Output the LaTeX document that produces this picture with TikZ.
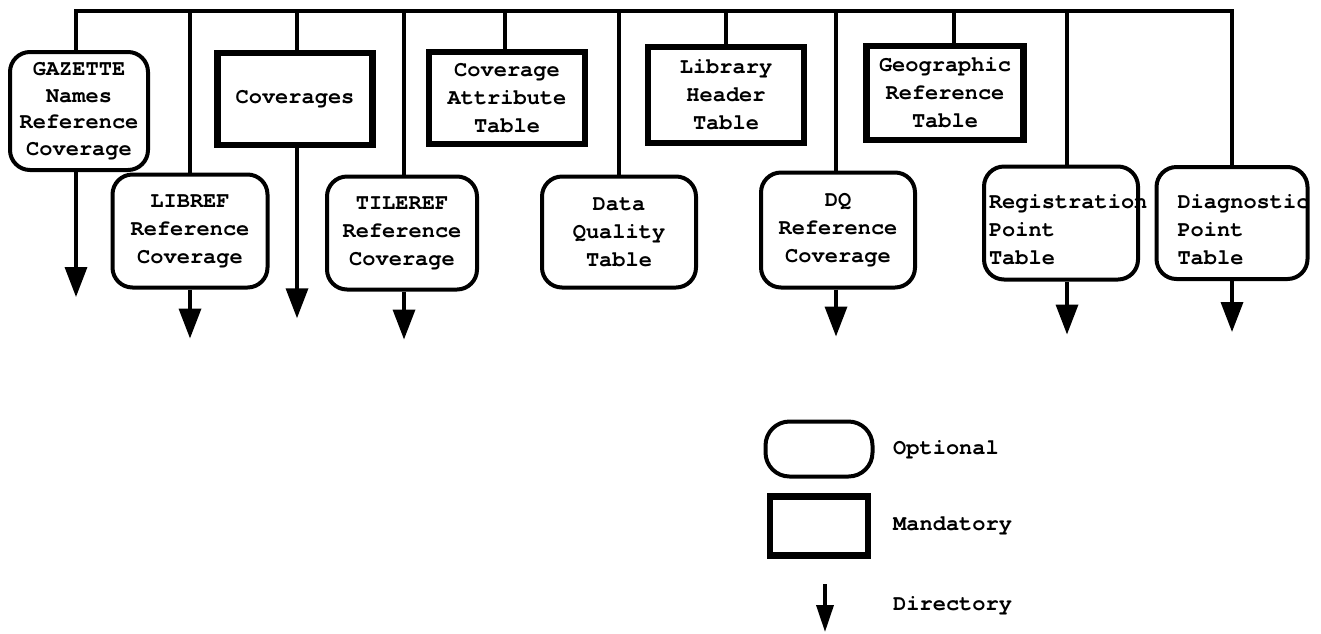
\documentclass[tikz,border=0pt]{standalone}
\usepackage{fontspec}
\newfontfamily\cour{TeX Gyre Cursor}
\usetikzlibrary{arrows.meta,calc}
\tikzset{
  txt/.style={font=\cour\bfseries\fontsize{22}{28}\selectfont, align=center, inner sep=0pt},
  optbox/.style={txt, draw, line width=4pt, rounded corners=20pt},
  mandbox/.style={txt, draw, line width=6.5pt},
  lower/.style={execute at begin node={\rule{0pt}{#1}}},
  link/.style={line width=3.5pt},
  dirarrow/.style={line width=3.5pt, -{Triangle[width=22pt,length=30pt]}},
}
\begin{document}
\begin{tikzpicture}[x=1pt,y=-1pt]
\useasboundingbox (0,0) rectangle (1321,633);
\coordinate (bus) at (0,11);
% boxes
\node[optbox, minimum width=138pt, minimum height=118pt, font=\cour\bfseries\fontsize{22}{26.5}\selectfont] (gaz) at (79,111) {GAZETTE\\Names\\Reference\\Coverage};
\node[optbox, minimum width=155pt, minimum height=113pt] (libref) at (190,231) {LIBREF\\Reference\\Coverage};
\node[mandbox, minimum width=155pt, minimum height=92pt] (cov) at (295,99) {Coverages};
\node[optbox, minimum width=150pt, minimum height=113pt] (tileref) at (402,233) {TILEREF\\Reference\\Coverage};
\node[mandbox, minimum width=156pt, minimum height=92pt] (cat) at (507,98) {Coverage\\Attribute\\Table};
\node[optbox, minimum width=154pt, minimum height=111pt] (dqt) at (619,232) {Data\\Quality\\Table};
\node[mandbox, minimum width=156pt, minimum height=96pt] (lht) at (726,95) {Library\\Header\\Table};
\node[optbox, minimum width=154pt, minimum height=115pt] (dqref) at (838,230) {DQ\\Reference\\Coverage};
\node[mandbox, minimum width=157pt, minimum height=94pt] (geo) at (945,93) {Geographic\\Reference\\Table};
\node[optbox, lower=28pt, minimum height=113pt, inner xsep=5pt, text width=144pt, align=left] (reg) at (1061,223) {Registration\\Point\\Table};
\node[optbox, lower=28pt, minimum height=112pt, inner xsep=21pt, text width=109pt, align=left] (diag) at (1232,223) {Diagnostic\\Point\\Table};
% attachment points
\coordinate (gazx) at ($(gaz.north)+(-3,0)$);
\coordinate (gazs) at ($(gaz.south)+(-3,0)$);
\coordinate (covn) at ($(cov.north)+(2,0)$);
\coordinate (covs) at ($(cov.south)+(2,0)$);
\coordinate (tilen) at ($(tileref.north)+(2,0)$);
\coordinate (tiles) at ($(tileref.south)+(2,0)$);
\coordinate (catn) at ($(cat.north)+(-2,0)$);
\coordinate (dqrn) at ($(dqref.north)+(-2,0)$);
\coordinate (dqrs) at ($(dqref.south)+(-2,0)$);
\coordinate (geon) at ($(geo.north)+(9,0)$);
\coordinate (regn) at ($(reg.north)+(6,0)$);
\coordinate (regs) at ($(reg.south)+(6,0)$);
% bus and drops
\draw[link] (gazx) -- (gazx |- bus) -- (diag.north |- bus) -- (diag.north);
\draw[link] (libref.north |- bus) -- (libref.north);
\draw[link] (covn |- bus) -- (covn);
\draw[link] (tilen |- bus) -- (tilen);
\draw[link] (catn |- bus) -- (catn);
\draw[link] (dqt.north |- bus) -- (dqt.north);
\draw[link] (lht.north |- bus) -- (lht.north);
\draw[link] (dqrn |- bus) -- (dqrn);
\draw[link] (geon |- bus) -- (geon);
\draw[link] (regn |- bus) -- (regn);
% directory arrows
\draw[dirarrow] (gazs) -- ++(0,125);
\draw[dirarrow] (libref.south) -- ++(0,49);
\draw[dirarrow] (covs) -- ++(0,170);
\draw[dirarrow] (tiles) -- ++(0,48);
\draw[dirarrow] (dqrs) -- ++(0,47);
\draw[dirarrow] (regs) -- ++(0,53);
\draw[dirarrow] (diag.south) -- ++(0,51);
% legend
\node[optbox, rounded corners=24pt, minimum width=107pt, minimum height=55pt] (lopt) at (819,449) {};
\node[mandbox, minimum width=98pt, minimum height=59pt] (lmand) at (819,526) {};
\coordinate (ldirtop) at (825,584);
\coordinate (ldirtip) at (825,632);
\draw[line width=3.5pt, -{Triangle[width=17pt,length=27pt]}] (ldirtop) -- (ldirtip);
\node[txt, anchor=west] (topt) at (893,450) {Optional};
\node[txt, anchor=west] (tmand) at (893,526) {Mandatory};
\node[txt, anchor=west] (tdir) at (893,606) {Directory};
\end{tikzpicture}
\end{document}
